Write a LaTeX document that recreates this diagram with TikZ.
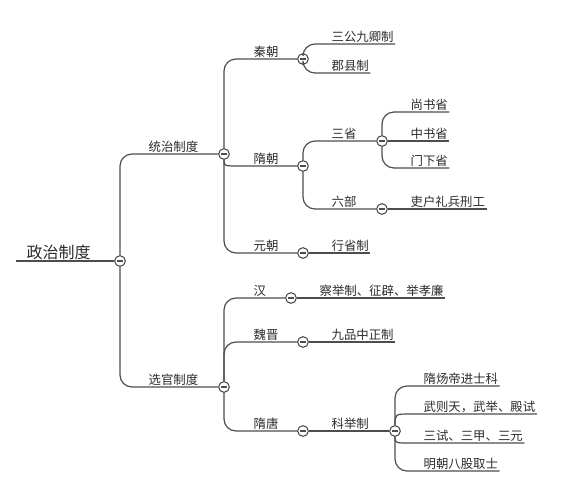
\documentclass[tikz,border=0pt]{standalone}
\usepackage{fontspec}
\newfontfamily\cjk{Noto Sans CJK SC}
\usepackage{tikz}
\definecolor{linkgray}{HTML}{4d4d4d}
\definecolor{txtgray}{HTML}{2b2b2b}
\tikzset{
 topic/.style={anchor=south west, inner sep=1pt, text=txtgray, font=\cjk\fontsize{9.3}{11}\selectfont},
 roottopic/.style={topic, font=\cjk\fontsize{12}{14}\selectfont},
 fold/.style={circle, draw=linkgray, fill=white, line width=0.8pt, minimum size=8pt, inner sep=0pt,
  path picture={\draw[linkgray, line width=0.8pt] ([xshift=-2.2pt]path picture bounding box.center) -- ([xshift=2.2pt]path picture bounding box.center);}},
 link/.style={draw=linkgray, line width=0.9pt, rounded corners=9pt}
}

\begin{document}
\begin{tikzpicture}[x=0.75pt, y=-0.75pt]
\useasboundingbox (0,0) rectangle (586,494);
% root
\coordinate (r0) at (16,261);
\node[roottopic] (root) at (25,261) {政治制度};
\node[fold] (c0) at (120,261) {};
\draw[link] (r0) -- (c0);
% first level
\node[topic] (t-tongzhi) at (147,154) {统治制度};
\node[fold] (c-tongzhi) at (224,154) {};
\node[topic] (t-xuanguan) at (147,387) {选官制度};
\node[fold] (c-xuanguan) at (224,387) {};
\draw[link] (c0) |- (t-tongzhi.south west) -- (c-tongzhi);
\draw[link] (c0) |- (t-xuanguan.south west) -- (c-xuanguan);
% dynasties
\node[topic] (t-qin) at (252,59) {秦朝};
\node[fold] (c-qin) at (303,59) {};
\node[topic] (t-sui) at (252,166) {隋朝};
\node[fold] (c-sui) at (303,166) {};
\node[topic] (t-yuan) at (252,253) {元朝};
\node[fold] (c-yuan) at (303,253) {};
\draw[link] (c-tongzhi) |- (t-qin.south west) -- (c-qin);
\draw[link] (c-tongzhi) .. controls (c-tongzhi |- t-sui.south west) .. (t-sui.south west) -- (c-sui);
\draw[link] (c-tongzhi) |- (t-yuan.south west) -- (c-yuan);
\node[topic] (t-han) at (252,298) {汉};
\node[fold] (c-han) at (291,298) {};
\node[topic] (t-weijin) at (252,342) {魏晋};
\node[fold] (c-weijin) at (303,342) {};
\node[topic] (t-suitang) at (252,431) {隋唐};
\node[fold] (c-suitang) at (303,431) {};
\draw[link] (c-xuanguan) |- (t-han.south west) -- (c-han);
\draw[link] (c-xuanguan) |- (t-weijin.south west) -- (c-weijin);
\draw[link] (c-xuanguan) |- (t-suitang.south west) -- (c-suitang);
% qin
\node[topic] (t-sangong) at (330,44) {三公九卿制};
\node[topic] (t-junxian) at (330,73) {郡县制};
\draw[link] (c-qin) |- (t-sangong.south west) -- (t-sangong.south east);
\draw[link] (c-qin) |- (t-junxian.south west) -- (t-junxian.south east);
% sui
\node[topic] (t-sansheng) at (330,141) {三省};
\node[fold] (c-sansheng) at (382,141) {};
\node[topic] (t-liubu) at (330,209) {六部};
\node[fold] (c-liubu) at (382,209) {};
\draw[link] (c-sui) |- (t-sansheng.south west) -- (c-sansheng);
\draw[link] (c-sui) |- (t-liubu.south west) -- (c-liubu);
\node[topic] (t-shangshu) at (409,112) {尚书省};
\node[topic] (t-zhongshu) at (409,141) {中书省};
\node[topic] (t-menxia) at (409,168) {门下省};
\draw[link] (c-sansheng) |- (t-shangshu.south west) -- (t-shangshu.south east);
\draw[link] (c-sansheng) -- (t-zhongshu.south west) -- (t-zhongshu.south east);
\draw[link] (c-sansheng) |- (t-menxia.south west) -- (t-menxia.south east);
\node[topic] (t-libu) at (409,209) {吏户礼兵刑工};
\draw[link] (c-liubu) -- (t-libu.south west) -- (t-libu.south east);
% yuan
\node[topic] (t-xingsheng) at (330,253) {行省制};
\draw[link] (c-yuan) -- (t-xingsheng.south west) -- (t-xingsheng.south east);
% han, weijin
\node[topic] (t-chaju) at (318,298) {察举制、征辟、举孝廉};
\draw[link] (c-han) -- (t-chaju.south west) -- (t-chaju.south east);
\node[topic] (t-jiupin) at (330,342) {九品中正制};
\draw[link] (c-weijin) -- (t-jiupin.south west) -- (t-jiupin.south east);
% suitang
\node[topic] (t-keju) at (330,431) {科举制};
\node[fold] (c-keju) at (395,431) {};
\draw[link] (c-suitang) -- (t-keju.south west) -- (c-keju);
\node[topic] (t-jinshi) at (422,386) {隋炀帝进士科};
\node[topic] (t-wuze) at (422,414) {武则天，武举、殿试};
\node[topic] (t-sanshi) at (422,443) {三试、三甲、三元};
\node[topic] (t-bagu) at (422,471) {明朝八股取士};
\draw[link] (c-keju) |- (t-jinshi.south west) -- (t-jinshi.south east);
\draw[link] (c-keju) .. controls (c-keju |- t-wuze.south west) .. (t-wuze.south west) -- (t-wuze.south east);
\draw[link] (c-keju) .. controls (c-keju |- t-sanshi.south west) .. (t-sanshi.south west) -- (t-sanshi.south east);
\draw[link] (c-keju) |- (t-bagu.south west) -- (t-bagu.south east);
\end{tikzpicture}
\end{document}
